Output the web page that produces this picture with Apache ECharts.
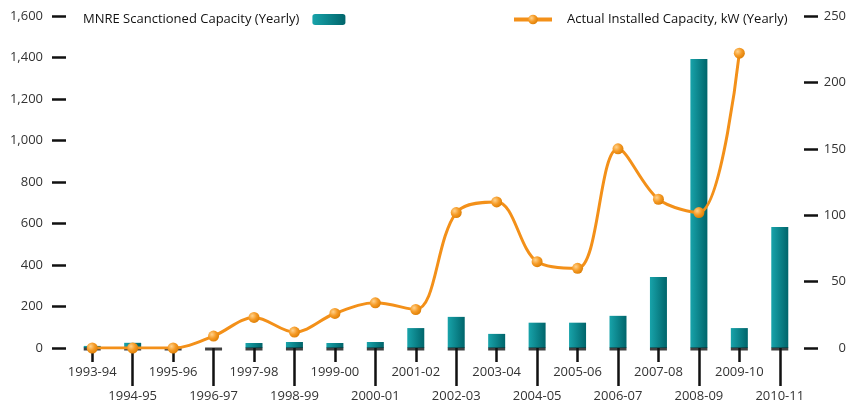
<!DOCTYPE html>
<html>
<head>
<meta charset="utf-8">
<script src="https://cdn.jsdelivr.net/npm/echarts@6/dist/echarts.min.js"></script>
<style>
  html, body { margin: 0; padding: 0; background: #fff; }
  #main { width: 855px; height: 405px; }
</style>
</head>
<body>
<div id="main"></div>
<script>
// years on the x axis
var categories = ['1993-94', '1994-95', '1995-96', '1996-97', '1997-98', '1998-99',
    '1999-00', '2000-01', '2001-02', '2002-03', '2003-04', '2004-05',
    '2005-06', '2006-07', '2007-08', '2008-09', '2009-10', '2010-11'];
// MNRE sanctioned capacity (left axis)
var sanctioned = [10, 25, 2, 0, 24, 29, 24, 29, 96, 150, 68, 122, 122, 155, 342, 1393, 96, 583];
// actual installed capacity, kW (right axis)
var installed = [0, 0, 0, 9, 23, 12, 26, 34, 29, 102, 110, 65, 60, 150, 112, 102, 222, null];
var leftTicks = { min: 0, max: 1600, interval: 200 };
var rightTicks = { min: 0, max: 250, interval: 50 };

var barName = 'MNRE Scanctioned Capacity (Yearly)';
var lineName = 'Actual Installed Capacity, kW (Yearly)';
var font = '"Open Sans", "Noto Sans", sans-serif';

var myChart = echarts.init(document.getElementById('main'));

var tealGrad = new echarts.graphic.LinearGradient(0, 0, 1, 0, [
    { offset: 0, color: '#18a3aa' },
    { offset: 1, color: '#00656b' }
]);
var ballGrad = new echarts.graphic.RadialGradient(0.35, 0.35, 0.75, [
    { offset: 0, color: '#ffd28c' },
    { offset: 0.5, color: '#f59a25' },
    { offset: 1, color: '#d97a00' }
]);

function xAxisFor(even, tickLen, margin) {
    var pick = function (i) { return (i % 2 === 0) === even; };
    return {
        type: 'category',
        data: categories,
        position: 'bottom',
        axisLine: { show: false },
        axisTick: {
            show: true,
            alignWithLabel: true,
            interval: pick,
            length: tickLen,
            lineStyle: { color: '#111', width: 2.5 }
        },
        axisLabel: {
            interval: pick,
            margin: margin,
            color: '#333',
            fontSize: 13,
            fontFamily: font
        }
    };
}

var option = {
    animation: false,
    backgroundColor: '#fff',
    grid: { left: 72, right: 55, top: 16, bottom: 57, containLabel: false },
    legend: [
        {
            data: [barName],
            left: 78,
            top: 8,
            align: 'right',
            itemWidth: 33,
            itemHeight: 11,
            textStyle: { fontSize: 13, color: '#111', fontFamily: font, padding: [0, 8, 0, 0] }
        },
        {
            data: [lineName],
            left: 507,
            top: 8,
            align: 'left',
            itemWidth: 38,
            itemHeight: 12,
            lineStyle: { width: 4 },
            textStyle: { fontSize: 13, color: '#111', fontFamily: font, padding: [0, 0, 0, 10] }
        }
    ],
    xAxis: [
        xAxisFor(true, 14, 18),
        xAxisFor(false, 38, 42)
    ],
    yAxis: [
        {
            type: 'value',
            min: leftTicks.min,
            max: leftTicks.max,
            interval: leftTicks.interval,
            position: 'left',
            offset: 6,
            splitLine: { show: false },
            axisLine: { show: false },
            axisTick: { show: true, length: 14, lineStyle: { color: '#111', width: 2.5 } },
            axisLabel: {
                margin: 23,
                color: '#333',
                fontSize: 13,
                fontFamily: font,
                formatter: function (v) { return v.toLocaleString('en-US'); }
            }
        },
        {
            type: 'value',
            min: rightTicks.min,
            max: rightTicks.max,
            interval: rightTicks.interval,
            position: 'right',
            offset: 4,
            splitLine: { show: false },
            axisLine: { show: false },
            axisTick: { show: true, length: 14, lineStyle: { color: '#111', width: 2.5 } },
            axisLabel: {
                margin: 42,
                align: 'right',
                color: '#333',
                fontSize: 13,
                fontFamily: font
            }
        }
    ],
    series: [
        {
            name: barName,
            type: 'bar',
            xAxisIndex: 0,
            yAxisIndex: 0,
            barWidth: 17,
            itemStyle: { color: tealGrad },
            data: sanctioned,
            z: 2
        },
        {
            // black cap under every category
            type: 'scatter',
            xAxisIndex: 0,
            yAxisIndex: 0,
            symbol: 'rect',
            symbolSize: [17, 3],
            symbolOffset: [0, 1],
            itemStyle: { color: '#111' },
            data: categories.map(function () { return 0; }),
            silent: true,
            z: 3
        },
        {
            name: lineName,
            type: 'line',
            xAxisIndex: 0,
            yAxisIndex: 1,
            smooth: 0.35,
            symbol: 'circle',
            symbolSize: 11,
            showAllSymbol: true,
            lineStyle: { color: '#f39019', width: 3 },
            itemStyle: { color: ballGrad, borderWidth: 0 },
            data: installed,
            z: 4
        }
    ]
};
myChart.setOption(option);
</script>
</body>
</html>
